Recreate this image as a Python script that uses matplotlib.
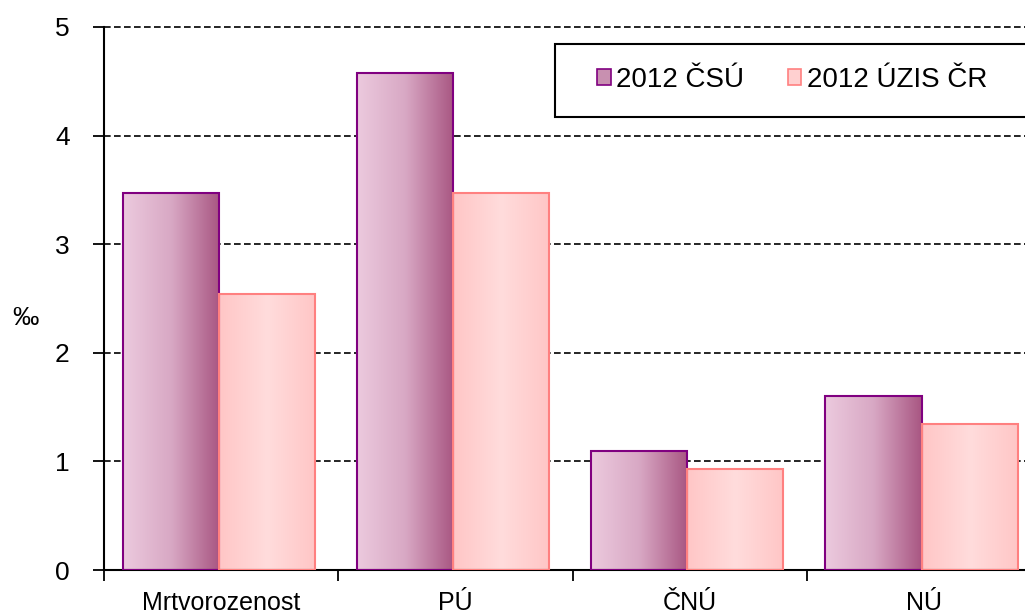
import numpy as np
import matplotlib
matplotlib.use("Agg")
import matplotlib.pyplot as plt
from matplotlib.colors import LinearSegmentedColormap
from matplotlib.patches import Patch, Rectangle

categories = ["Mrtvorozenost", "PÚ", "ČNÚ", "NÚ"]
csu_2012 = [3.47, 4.58, 1.10, 1.60]
uzis_2012 = [2.54, 3.47, 0.93, 1.34]
series_labels = ["2012 ČSÚ", "2012 ÚZIS ČR"]

plt.rcParams["font.family"] = ["Liberation Sans", "DejaVu Sans"]

W, H = 1025, 616
fig = plt.figure(figsize=(W / 100, H / 100), dpi=100)
ax = fig.add_axes([104 / W, 46 / H, 937 / W, 543 / H])

x = np.arange(len(categories)) + 0.49
w = 0.41

csu_cmap = LinearSegmentedColormap.from_list("csu", ["#eccade", "#d8a8c4", "#a85682"])
uzis_cmap = LinearSegmentedColormap.from_list("uzis", ["#ffc6c6", "#ffdcdc", "#ffc6c6"])


def gradient_bars(bars, cmap):
    grad = np.linspace(0, 1, 256).reshape(1, -1)
    for b in bars:
        bx, by = b.get_x(), b.get_y()
        bw, bh = b.get_width(), b.get_height()
        im = ax.imshow(grad, cmap=cmap, aspect="auto", extent=[bx, bx + bw, by, by + bh],
                       zorder=2.5, interpolation="bicubic")
        im.set_clip_path(b)
        b.set_facecolor("none")


b1 = ax.bar(x - w / 2, csu_2012, w, edgecolor="#800080", linewidth=1.5, zorder=3)
b2 = ax.bar(x + w / 2, uzis_2012, w, edgecolor="#ff8080", linewidth=1.5, zorder=3)
gradient_bars(b1, csu_cmap)
gradient_bars(b2, uzis_cmap)

ax.set_xlim(0, 4)
ax.set_ylim(0, 5)
ax.set_yticks(range(6))
ax.tick_params(axis="y", labelsize=19, length=8, width=1.3, direction="out", pad=22)
for lab in ax.get_yticklabels():
    lab.set_horizontalalignment("center")
ax.set_xticks(range(5))
ax.set_xticklabels([])
ax.set_xticks(np.arange(len(categories)) + 0.5, minor=True)
ax.set_xticklabels(categories, minor=True, fontsize=18)
ax.tick_params(axis="x", which="major", length=8, width=1.3, direction="out")
ax.tick_params(axis="x", which="minor", length=0, pad=15)

ax.yaxis.grid(True, linestyle=(0, (4, 2)), color="black", linewidth=1.2, zorder=1)
for gl in ax.get_ygridlines():
    gl.set_clip_on(False)
ax.set_axisbelow(True)
for s in ["top", "right"]:
    ax.spines[s].set_visible(False)
for s in ["left", "bottom"]:
    ax.spines[s].set_linewidth(1.5)

fig.text(25 / W, 1 - 318 / H, "‰", fontsize=19, ha="center", va="center")

# legend frame runs past the right edge, as in the original
fig.patches.append(Rectangle((555 / W, 1 - 117 / H), 480 / W, 73 / H, transform=fig.transFigure,
                             facecolor="white", edgecolor="black", linewidth=1.5, zorder=5))
handles = [Patch(facecolor="#c890b0", edgecolor="#800080", linewidth=1.2),
           Patch(facecolor="#ffd0d0", edgecolor="#ff8080", linewidth=1.2)]
leg = fig.legend(handles, series_labels, loc="center left", bbox_to_anchor=(597 / W, 1 - 80 / H),
                 ncol=2, fontsize=20, frameon=False,
                 handlelength=0.5, handleheight=0.5, handletextpad=0.2, columnspacing=1.55,
                 borderpad=0, borderaxespad=0)
leg.set_zorder(6)

fig.savefig("out.png", dpi=100)
